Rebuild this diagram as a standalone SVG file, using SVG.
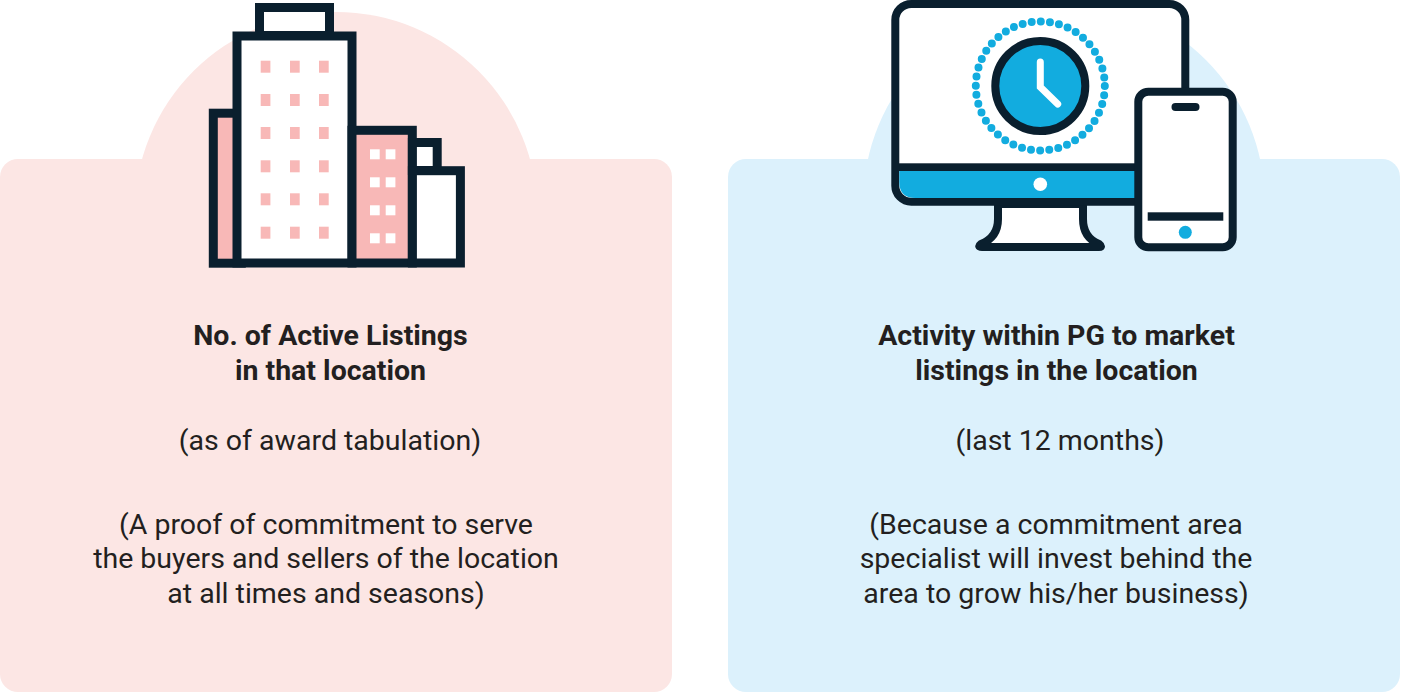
<svg xmlns="http://www.w3.org/2000/svg" width="1401" height="692" viewBox="0 0 1401 692">
<style>
.ink{stroke:#0a1f2e;stroke-width:9;stroke-linejoin:miter;fill:#fff}
.pk{fill:#f8b8b7}
.wh{fill:#fff}
.dk{stroke:#0a1f2e;stroke-width:8;fill:#fff}
.blue{fill:#12acdf}
text{font-family:Roboto,"Liberation Sans",sans-serif;font-size:28.500px;fill:#231f20;text-anchor:middle}
.b{font-weight:700}
</style>
<rect width="1401" height="692" fill="#fff"/>
<g id="panel-left"><circle cx="336" cy="213.500" r="201.500" fill="#fce6e4"/><rect x="0" y="159" width="672" height="533" rx="18" fill="#fce6e4"/></g>
<g id="panel-right"><circle cx="1064" cy="202" r="200.700" fill="#dcf1fc"/><rect x="728" y="159" width="672" height="533" rx="18" fill="#dcf1fc"/></g>
<g id="building">
<rect class="ink" x="259.500" y="7.500" width="70" height="28"/>
<rect class="ink" x="213.300" y="113.200" width="28" height="150" style="fill:#f8b8b7"/>
<rect class="ink" x="237" y="36" width="115" height="227"/>
<rect class="ink" x="352" y="130.300" width="60.300" height="132.700" style="fill:#f8b8b7"/>
<rect class="ink" x="412.400" y="142.500" width="24.800" height="28"/>
<rect class="ink" x="412.400" y="170.700" width="48" height="92.300"/>
<g class="pk">
<rect x="260.700" y="60.700" width="9.700" height="12"/><rect x="290" y="60.700" width="9.700" height="12"/><rect x="319" y="60.700" width="9.700" height="12"/>
<rect x="260.700" y="94" width="9.700" height="12"/><rect x="290" y="94" width="9.700" height="12"/><rect x="319" y="94" width="9.700" height="12"/>
<rect x="260.700" y="127" width="9.700" height="12"/><rect x="290" y="127" width="9.700" height="12"/><rect x="319" y="127" width="9.700" height="12"/>
<rect x="260.700" y="160.300" width="9.700" height="12"/><rect x="290" y="160.300" width="9.700" height="12"/><rect x="319" y="160.300" width="9.700" height="12"/>
<rect x="260.700" y="193.300" width="9.700" height="12"/><rect x="290" y="193.300" width="9.700" height="12"/><rect x="319" y="193.300" width="9.700" height="12"/>
<rect x="260.700" y="226.700" width="9.700" height="12"/><rect x="290" y="226.700" width="9.700" height="12"/><rect x="319" y="226.700" width="9.700" height="12"/>
</g>
<g class="wh">
<rect x="370" y="149.300" width="9.700" height="10"/><rect x="385.700" y="149.300" width="9.700" height="10"/>
<rect x="370" y="177.300" width="9.700" height="10"/><rect x="385.700" y="177.300" width="9.700" height="10"/>
<rect x="370" y="205.300" width="9.700" height="10"/><rect x="385.700" y="205.300" width="9.700" height="10"/>
<rect x="370" y="233.300" width="9.700" height="10"/><rect x="385.700" y="233.300" width="9.700" height="10"/>
</g>
</g>
<g id="monitor">
<path class="dk" stroke-linejoin="round" d="M998 204V219C998 232 991 240 981 244Q977 247 982 247H1099Q1103 247 1099 244C1089 240 1083 232 1083 219V204Z"/>
<rect class="dk" x="895.300" y="4" width="290" height="197.700" rx="16"/>
<path class="blue" d="M899.300 171H1181.300V198H915.300Q899.300 198 899.300 182Z"/>
<rect x="899" y="163.300" width="286" height="7.700" fill="#0a1f2e"/>
<circle cx="1040.300" cy="184.300" r="6.800" fill="#fff"/>
<circle cx="1040.300" cy="86" r="64.500" fill="none" stroke="#12acdf" stroke-width="8" stroke-linecap="round" stroke-dasharray="0 9.211"/>
<circle class="blue" cx="1040.300" cy="86" r="45" stroke="#0a1f2e" stroke-width="8"/>
<path d="M1040.300 62V87L1057.700 104" fill="none" stroke="#fff" stroke-width="7" stroke-linecap="round" stroke-linejoin="miter"/>
</g>
<g id="phone">
<rect class="dk" x="1138.300" y="91.700" width="94.400" height="155.600" rx="10"/>
<path d="M1175.500 107H1195.500" stroke="#0a1f2e" stroke-width="8" stroke-linecap="round"/>
<rect x="1147.700" y="212.300" width="75.600" height="8.400" fill="#0a1f2e"/>
<circle class="blue" cx="1185.300" cy="232.300" r="6.500"/>
</g>
<g id="text-left">
<text class="b" x="330.500" y="344.500">No. of Active Listings</text>
<text class="b" x="330.500" y="379.500">in that location</text>
<text x="330" y="449.500">(as of award tabulation)</text>
<text x="326" y="533.500">(A proof of commitment to serve</text>
<text x="326" y="567.500">the buyers and sellers of the location</text>
<text x="326" y="602.500">at all times and seasons)</text>
</g>
<g id="text-right">
<text class="b" x="1056.500" y="344.500">Activity within PG to market</text>
<text class="b" x="1056.500" y="379.500">listings in the location</text>
<text x="1060" y="449.500">(last 12 months)</text>
<text x="1056" y="533.500">(Because a commitment area</text>
<text x="1056" y="567.500">specialist will invest behind the</text>
<text x="1056" y="602.500">area to grow his/her business)</text>
</g>
</svg>
